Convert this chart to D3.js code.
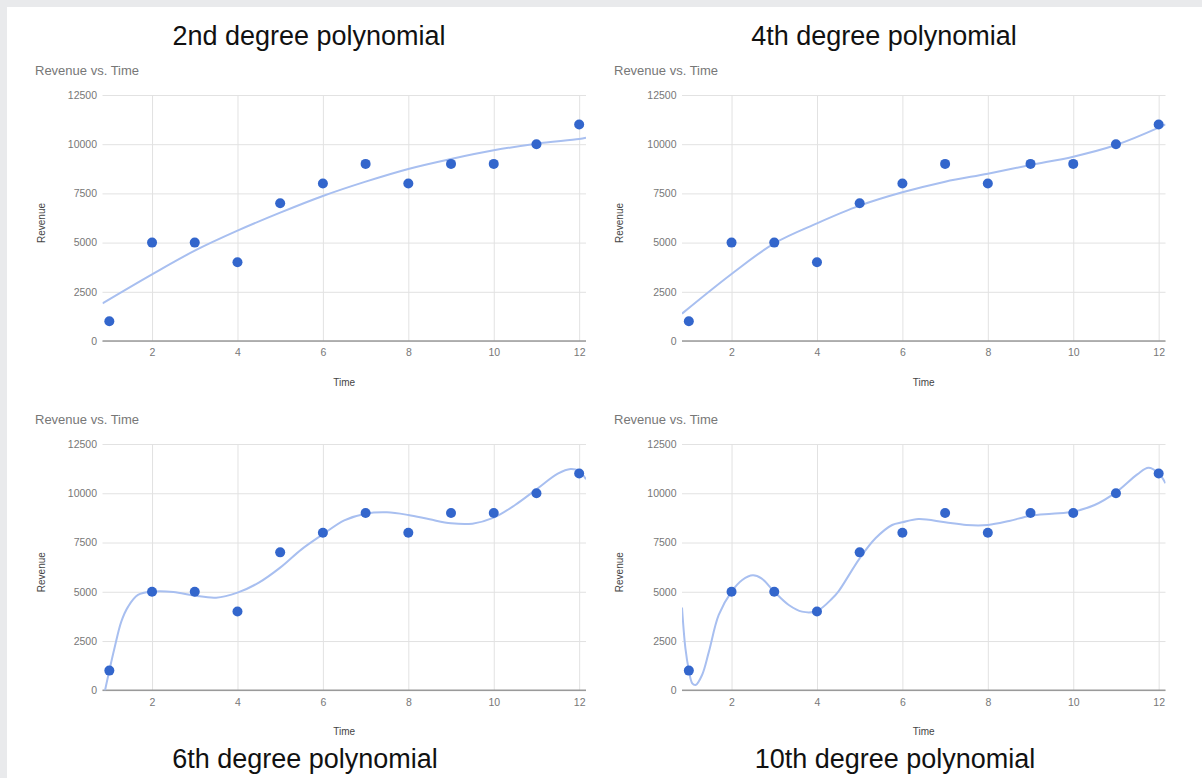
<!DOCTYPE html>
<html>
<head>
<meta charset="utf-8">
<script src="https://cdn.jsdelivr.net/npm/d3@7"></script>
<style>
  html, body { margin: 0; padding: 0; background: #e9eaec; }
  svg { display: block; }
</style>
</head>
<body>
<svg id="chart" width="1202" height="778"></svg>
<script>
// ---- data ----
const times = [1, 2, 3, 4, 5, 6, 7, 8, 9, 10, 11, 12];
const revenue = [1000, 5000, 5000, 4000, 7000, 8000, 9000, 8000, 9000, 9000, 10000, 11000];
const xTicks = [2, 4, 6, 8, 10, 12];
const yTicks = [0, 2500, 5000, 7500, 10000, 12500];
const titles = ["2nd degree polynomial", "4th degree polynomial", "6th degree polynomial", "10th degree polynomial"];
const chartTitle = "Revenue vs. Time";
const xTitle = "Time";
const yTitle = "Revenue";

// trendline samples: [time, revenue]
const trend2 = [[0.84,1914],[2,3388],[3,4590],[4,5606],[5,6521],[6,7368],[7,8096],[8,8740],[9,9248],[10,9688],[11,10027],[12,10264],[12.16,10332]];
const trend4 = [[0.84,1389],[2,3404],[3,4963],[4,5979],[5,6877],[6,7554],[7,8096],[8,8502],[9,8943],[10,9367],[11,9959],[12,10840],[12.16,11009]];
const trend6 = [[0.84,-700],[0.9,0],[1,1000],[1.12,2131],[1.28,3484],[1.44,4246],[1.67,4838],[2,5007],[2.5,4990],[3,4804],[3.5,4703],[4,4956],[4.5,5463],[5,6224],[5.5,7154],[6,7915],[6.5,8626],[7,8965],[7.5,9033],[8,8897],[8.5,8677],[9,8474],[9.5,8457],[10,8762],[10.5,9405],[11,10200],[11.5,10995],[11.8,11232],[12,11130],[12.16,10707]];
const trend10 = [[0.84,4200],[0.92,2131],[1,1032],[1.08,355],[1.16,270],[1.31,778],[1.47,1962],[1.7,3823],[2,5007],[2.25,5599],[2.5,5840],[2.7,5683],[3,5007],[3.34,4330],[3.65,3992],[4,4026],[4.36,4668],[4.5,5007],[5,6698],[5.37,7713],[5.76,8389],[6,8525],[6.38,8694],[7,8525],[7.5,8389],[8,8389],[8.5,8593],[9,8863],[9.5,8965],[10,9066],[10.5,9405],[11,10047],[11.5,10960],[11.76,11299],[12,11011],[12.16,10504]];
const trends = [trend2, trend4, trend6, trend10];

// ---- layout ----
const svg = d3.select("#chart");
svg.append("rect").attr("x", 7).attr("y", 7).attr("width", 1195).attr("height", 771).attr("fill", "#ffffff");

const cols = [{x0: 102.5, x1: 586, textX: 35, yLabelX: 41}, {x0: 682, x1: 1165.5, textX: 614, yLabelX: 619}];
const rows = [{y0: 341, y1: 95}, {y0: 690.3, y1: 444}];
const titleCenters = [[309, 45], [884, 45], [305, 768], [895, 768]];

const FONT = "'Liberation Sans', Arial, Helvetica, sans-serif";
const dotColor = "#3366cc";
const trendColor = "#a8bff0";

titles.forEach((t, i) => {
  const col = cols[i % 2], row = rows[Math.floor(i / 2)];
  const x = d3.scaleLinear().domain([0.84, 12.16]).range([col.x0, col.x1]);
  const y = d3.scaleLinear().domain([0, 12500]).range([row.y0, row.y1]);
  const w = col.x1 - col.x0, h = row.y0 - row.y1;
  const g = svg.append("g");

  // big title
  svg.append("text").attr("x", titleCenters[i][0]).attr("y", titleCenters[i][1])
    .attr("text-anchor", "middle").attr("font-family", FONT).attr("font-size", 27)
    .attr("fill", "#111").text(t);

  // chart title
  g.append("text").attr("x", col.textX).attr("y", row.y1 - 20)
    .attr("font-family", FONT).attr("font-size", 13).attr("fill", "#777").text(chartTitle);

  // y axis with gridlines
  const ya = g.append("g").attr("transform", `translate(${col.x0},0)`)
    .call(d3.axisLeft(y).tickValues(yTicks).tickSize(-w).tickPadding(5.5).tickFormat(d3.format("d")));
  ya.select(".domain").remove();
  ya.selectAll("line").attr("stroke", "#e2e2e2");
  ya.selectAll("text").attr("font-family", FONT).attr("font-size", 10.5).attr("fill", "#777");

  // x axis with gridlines
  const xa = g.append("g").attr("transform", `translate(0,${row.y0})`)
    .call(d3.axisBottom(x).tickValues(xTicks).tickSize(-h).tickPadding(8));
  xa.select(".domain").remove();
  xa.selectAll("line").attr("stroke", "#e2e2e2");
  xa.selectAll("text").attr("font-family", FONT).attr("font-size", 10.5).attr("fill", "#777");

  // baseline
  g.append("line").attr("x1", col.x0).attr("x2", col.x1).attr("y1", y(0)).attr("y2", y(0))
    .attr("stroke", "#9a9a9a").attr("stroke-width", 1.5);

  // axis titles
  g.append("text").attr("x", (col.x0 + col.x1) / 2).attr("y", row.y0 + 45)
    .attr("text-anchor", "middle").attr("font-family", FONT).attr("font-size", 10).attr("fill", "#444").text(xTitle);
  g.append("text").attr("transform", `translate(${col.yLabelX},${(row.y0 + row.y1) / 2 + 5}) rotate(-90)`)
    .attr("text-anchor", "middle").attr("dy", "0.35em").attr("font-family", FONT).attr("font-size", 10).attr("fill", "#444").text(yTitle);

  // clip
  const cid = "clip" + i;
  svg.append("clipPath").attr("id", cid).append("rect")
    .attr("x", col.x0).attr("y", row.y1).attr("width", w).attr("height", h);

  // trendline
  const line = d3.line().x(d => x(d[0])).y(d => y(d[1])).curve(d3.curveCatmullRom.alpha(0.5));
  g.append("path").datum(trends[i]).attr("clip-path", `url(#${cid})`)
    .attr("d", line).attr("fill", "none").attr("stroke", trendColor).attr("stroke-width", 2);

  // points
  g.selectAll("circle.pt").data(times).join("circle").attr("class", "pt")
    .attr("cx", d => x(d)).attr("cy", (d, j) => y(revenue[j])).attr("r", 5).attr("fill", dotColor);
});
</script>
</body>
</html>
